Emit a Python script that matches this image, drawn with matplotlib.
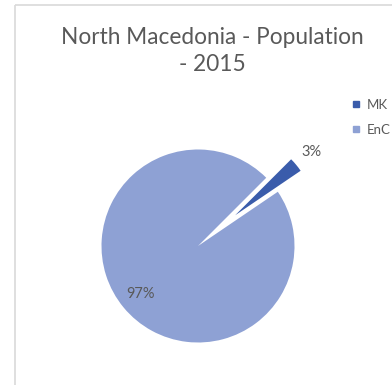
import matplotlib
matplotlib.use("Agg")
import matplotlib.pyplot as plt
import numpy as np
from matplotlib.lines import Line2D

# Data
categories = ["MK", "EnC"]
values = [3, 97]
colors = ["#3A5CAB", "#8EA1D4"]
title = "North Macedonia - Population\n- 2015"

W, H = 392, 385
fig = plt.figure(figsize=(W / 100, H / 100), dpi=100)
ax = fig.add_axes([0, 0, 1, 1])

text_color = "#595959"
font = "Lato"

R = 96.5
cx, cy = 198, H - 246
wedges, _ = ax.pie(values, colors=colors, startangle=45, counterclock=False,
                   explode=[0.5 * R, 0], radius=R, center=(cx, cy), frame=True,
                   wedgeprops=dict(linewidth=0))
ax.set_xlim(0, W)
ax.set_ylim(0, H)
ax.set_aspect("equal")
ax.axis("off")
wedges[0].set_radius(0.82 * R)

# chart frame (left and top edges)
ax.plot([15, 15], [0, H - 5], color="#D9D9D9", lw=1.2, solid_capstyle="butt")
ax.plot([15, W], [H - 5, H - 5], color="#D9D9D9", lw=1.2, solid_capstyle="butt")

# percentage labels
total = sum(values)
label_dist = [1.53, 0.78]
for w, v, d in zip(wedges, values, label_dist):
    mid = np.deg2rad((w.theta1 + w.theta2) / 2)
    ax.text(cx + d * R * np.cos(mid), cy + d * R * np.sin(mid),
            f"{round(100 * v / total)}%", ha="center", va="center",
            fontsize=10.5, color=text_color, family=font)

ax.text(212, H - 51, title, ha="center", va="center", fontsize=16.3,
        color=text_color, family=font, linespacing=1.4)

handles = [Line2D([], [], marker="s", ls="", markersize=5, color=c) for c in colors]
leg = fig.legend(handles, categories, loc="upper left",
                 bbox_to_anchor=(352 / W, 1 - 99 / H), frameon=False,
                 prop=dict(family=font, size=9.5), labelcolor=text_color,
                 handlelength=0.6, handletextpad=0.5, labelspacing=0.95,
                 borderpad=0, borderaxespad=0)

fig.savefig("out.png", dpi=100)
